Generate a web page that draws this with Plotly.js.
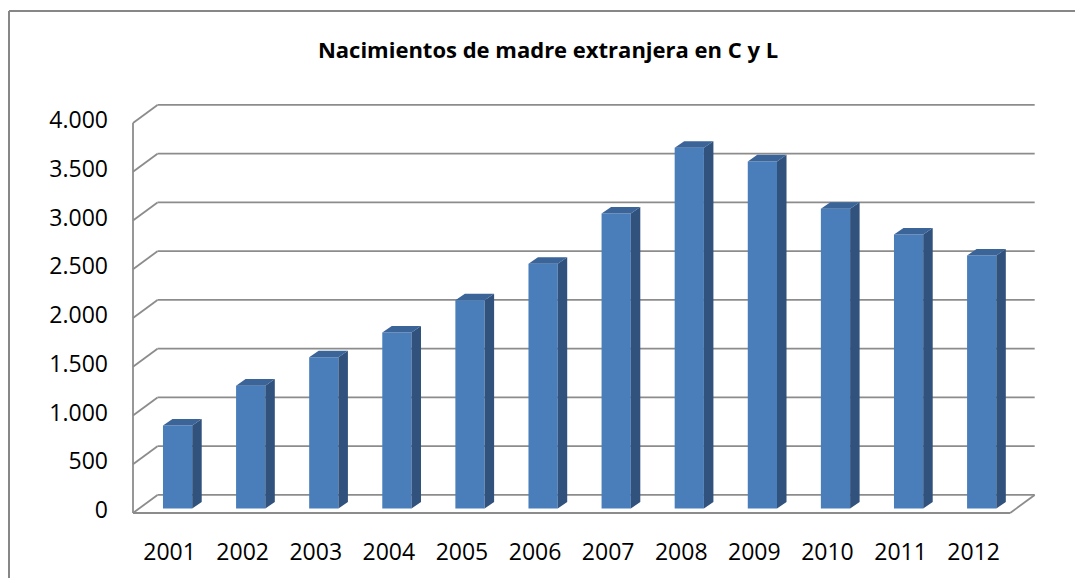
<!DOCTYPE html>
<html>
<head>
<meta charset="utf-8">
<script src="https://cdn.plot.ly/plotly-3.0.1.min.js"></script>
<style>html,body{margin:0;padding:0;background:#fff;overflow:hidden}
#plot{position:absolute;left:0;top:0}</style>
</head>
<body>
<div id="plot" style="width:1075px;height:578px"></div>
<script>
const years = ['2001','2002','2003','2004','2005','2006','2007','2008','2009','2010','2011','2012'];
const births = [850, 1260, 1550, 1805, 2135, 2510, 3025, 3700, 3560, 3075, 2810, 2595];
const yTicks = [0, 500, 1000, 1500, 2000, 2500, 3000, 3500, 4000];

// fake 3-D (oblique) look, everything in axis units
const wallDx = 0.335, wallDy = 185;   // how far back the back wall sits
const barZ = 0.25;                    // bars stand a quarter of the way in
const barLeft = -0.09, barWidth = 0.4;
const sideDx = 0.13, sideDy = 67;     // depth of each column

const idx = years.map((_, i) => i);
const n = years.length;
const base = barZ * wallDy;
const gridCol = '#8c8c8c';

// walls + floor as shapes, so they stay under the bars
function seg(xa, ya, xb, yb) {
    return { type: 'line', xref: 'x', yref: 'y', layer: 'below',
             x0: xa, y0: ya, x1: xb, y1: yb, line: { color: gridCol, width: 1.8 } };
}
let shapes = [];
yTicks.forEach(v => {
    shapes.push(seg(-0.5, v, -0.5 + wallDx, v + wallDy));
    shapes.push(seg(-0.5 + wallDx, v + wallDy, n - 0.5 + wallDx, v + wallDy));
});
shapes.push(seg(-0.5, 0, n - 0.5, 0));
shapes.push(seg(n - 0.5, 0, n - 0.5 + wallDx, wallDy));
shapes.push(seg(-0.5, 0, -0.5, yTicks[yTicks.length - 1]));

// side and top faces of the columns
let sx = [], sy = [], tx = [], ty = [];
births.forEach((v, i) => {
    const xl = i + barLeft, xr = xl + barWidth;
    sx.push(xr, xr + sideDx, xr + sideDx, xr, xr, null);
    sy.push(base, base + sideDy, base + sideDy + v, base + v, base, null);
    tx.push(xl, xr, xr + sideDx, xl + sideDx, xl, null);
    ty.push(base + v, base + v, base + v + sideDy, base + v + sideDy, base + v, null);
});

const traces = [
    { x: idx, y: births, base: base, type: 'bar', offset: barLeft, width: barWidth,
      marker: { color: '#4a7ebb', line: { width: 0 } } },
    { x: sx, y: sy, type: 'scatter', mode: 'lines', fill: 'toself', fillcolor: '#30527d',
      line: { width: 0, color: '#30527d' }, hoverinfo: 'skip' },
    { x: tx, y: ty, type: 'scatter', mode: 'lines', fill: 'toself', fillcolor: '#3b6499',
      line: { width: 0, color: '#3b6499' }, hoverinfo: 'skip' }
];

// pixel mapping of the page
const W = 1075, H = 578;
const mL = 115, mR = 25, mT = 90, mB = 58;
const pxCat = 73.1, pxUnit = 0.0975, frontLeft = 133, zeroPx = 513;
const x0 = -0.5 - (frontLeft - mL) / pxCat;
const x1 = -0.5 + (W - mR - frontLeft) / pxCat;
const y1 = (zeroPx - mT) / pxUnit;
const y0 = -(H - mB - zeroPx) / pxUnit;
const pw = W - mL - mR, ph = H - mT - mB;

// chart-area border: only its left and top edges are inside the picture
const bx = (9 - mL) / pw, bTop = 1 + (mT - 11) / ph;
shapes.push({ type: 'line', xref: 'paper', yref: 'paper', x0: bx, y0: -(mB + 10) / ph, x1: bx, y1: bTop,
              line: { color: '#878787', width: 2 } });
shapes.push({ type: 'line', xref: 'paper', yref: 'paper', x0: bx, y0: bTop, x1: (W - mL) / pw, y1: bTop,
              line: { color: '#878787', width: 2 } });

const tickFont = { family: 'Open Sans, sans-serif', size: 23, color: '#000' };

const layout = {
    width: W, height: H,
    margin: { l: mL, r: mR, t: mT, b: mB },
    paper_bgcolor: '#fff', plot_bgcolor: '#fff',
    showlegend: false, hovermode: false,
    separators: ',.',
    title: {
        text: 'Nacimientos de madre extranjera en C y L',
        font: { family: 'Open Sans, sans-serif', size: 22, weight: 'bold', color: '#000' },
        x: 548 / W, xanchor: 'center', y: 1 - 50 / H, yanchor: 'middle'
    },
    xaxis: {
        range: [x0, x1], showgrid: false, zeroline: false, showline: false,
        tickvals: idx, ticktext: years, ticks: '', tickfont: tickFont,
        ticklabelstandoff: 16, fixedrange: true
    },
    yaxis: {
        range: [y0, y1], showgrid: false, zeroline: false, showline: false,
        tickvals: yTicks, tickformat: ',d', ticks: '', tickfont: tickFont,
        ticklabelstandoff: 6, ticklabelshift: -3, fixedrange: true
    },
    shapes: shapes
};

Plotly.newPlot('plot', traces, layout, { displayModeBar: false, staticPlot: true });
</script>
</body>
</html>
